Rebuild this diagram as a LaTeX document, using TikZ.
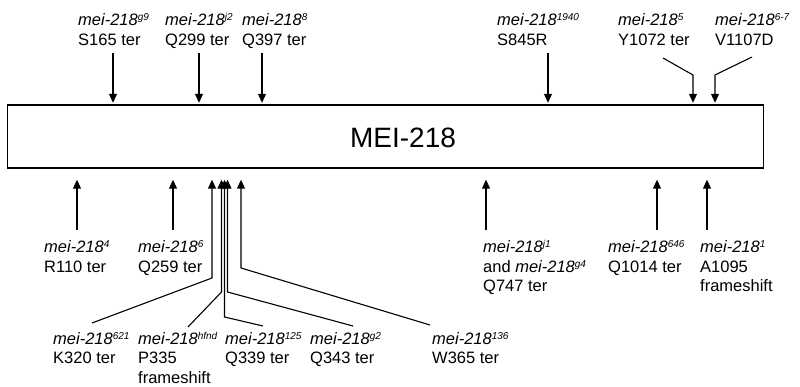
\documentclass[tikz,border=0pt]{standalone}
\usepackage{fontspec}
\setmainfont{Liberation Sans}
\usetikzlibrary{arrows.meta,positioning}
\newcommand{\mei}[1]{\textit{mei-218}{\fontsize{10}{10}\selectfont\itshape\raisebox{5pt}{#1}}}

\begin{document}
\begin{tikzpicture}[
        x=1pt, y=-1pt,
        protein/.style={rectangle, draw=black, line width=1.4pt, minimum width=756pt, minimum height=63pt, inner sep=0pt},
        protlabel/.style={font=\fontsize{28}{28}\selectfont},
        allele/.style={anchor=base west, inner sep=0pt, align=left, font=\fontsize{16.5}{19.5}\selectfont},
        arrow/.style={-{Triangle[length=9pt,width=8pt]}, line width=1.1pt},
        toptip/.style={arrow, shorten >=1.5pt},
        bottip/.style={arrow, shorten >=11pt}
    ]
    \useasboundingbox (0,0) rectangle (800,387);

    % Protein
    \node[protein] (prot) at (385.75,136.5) {};
    \node[protlabel] (protname) at (403,138) {MEI-218};

    % Alleles above (placed at the baseline of their last line)
    \node[allele] (g9) at (78,45.5) {\mei{g9}\\S165 ter};
    \node[allele] (j2) at (165,45.5) {\mei{j2}\\Q299 ter};
    \node[allele] (m8) at (242,45.5) {\mei{8}\\Q397 ter};
    \node[allele] (m1940) at (497,45.5) {\mei{1940}\\S845R};
    \node[allele] (m5) at (618,45.5) {\mei{5}\\Y1072 ter};
    \node[allele] (m67) at (715,45.5) {\mei{6-7}\\V1107D};

    % Alleles below
    \node[allele] (m4) at (44,272.5) {\mei{4}\\R110 ter};
    \node[allele] (m6) at (138,272.5) {\mei{6}\\Q259 ter};
    \node[allele] (j1) at (483,291.5) {\mei{j1}\\and \mei{g4}\\Q747 ter};
    \node[allele] (m646) at (608,272.5) {\mei{646}\\Q1014 ter};
    \node[allele] (m1) at (700,291.5) {\mei{1}\\A1095\\frameshift};
    \node[allele] (m621) at (53,363.5) {\mei{621}\\K320 ter};
    \node[allele] (hfnd) at (138,383) {\mei{hfnd}\\P335\\frameshift};
    \node[allele] (m125) at (225,363.5) {\mei{125}\\Q339 ter};
    \node[allele] (g2) at (310,363.5) {\mei{g2}\\Q343 ter};
    \node[allele] (m136) at (432,363.5) {\mei{136}\\W365 ter};

    % Line ends and bends
    \coordinate (g9-t) at (113,53);
    \coordinate (j2-t) at (199,53);
    \coordinate (m8-t) at (262,53);
    \coordinate (m1940-t) at (548,53);
    \coordinate (m5-t) at (663,58);
    \coordinate (m5-b) at (693,75);
    \coordinate (m67-t) at (752,57);
    \coordinate (m67-b) at (715,75);
    \coordinate (m4-t) at (77,230);
    \coordinate (m6-t) at (173,230);
    \coordinate (j1-t) at (486,230);
    \coordinate (m646-t) at (657,230);
    \coordinate (m1-t) at (707,230);
    \coordinate (m621-t) at (92,323);
    \coordinate (m621-b) at (212,278);
    \coordinate (hfnd-t) at (188,327);
    \coordinate (hfnd-b) at (221.5,292);
    \coordinate (m125-t) at (263,326);
    \coordinate (m125-b) at (224.5,317);
    \coordinate (g2-t) at (353,326);
    \coordinate (g2-b) at (227.5,292);
    \coordinate (m136-t) at (430,325);
    \coordinate (m136-b) at (241,268);

    % Arrows above
    \draw[toptip] (g9-t) -- (g9-t |- prot.north);
    \draw[toptip] (j2-t) -- (j2-t |- prot.north);
    \draw[toptip] (m8-t) -- (m8-t |- prot.north);
    \draw[toptip] (m1940-t) -- (m1940-t |- prot.north);
    \draw[toptip] (m5-t) -- (m5-b) -- (m5-b |- prot.north);
    \draw[toptip] (m67-t) -- (m67-b) -- (m67-b |- prot.north);

    % Arrows below
    \draw[bottip] (m4-t) -- (m4-t |- prot.south);
    \draw[bottip] (m6-t) -- (m6-t |- prot.south);
    \draw[bottip] (j1-t) -- (j1-t |- prot.south);
    \draw[bottip] (m646-t) -- (m646-t |- prot.south);
    \draw[bottip] (m1-t) -- (m1-t |- prot.south);
    \draw[bottip] (m621-t) -- (m621-b) -- (m621-b |- prot.south);
    \draw[bottip] (hfnd-t) -- (hfnd-b) -- (hfnd-b |- prot.south);
    \draw[bottip] (m125-t) -- (m125-b) -- (m125-b |- prot.south);
    \draw[bottip] (g2-t) -- (g2-b) -- (g2-b |- prot.south);
    \draw[bottip] (m136-t) -- (m136-b) -- (m136-b |- prot.south);

\end{tikzpicture}
\end{document}
